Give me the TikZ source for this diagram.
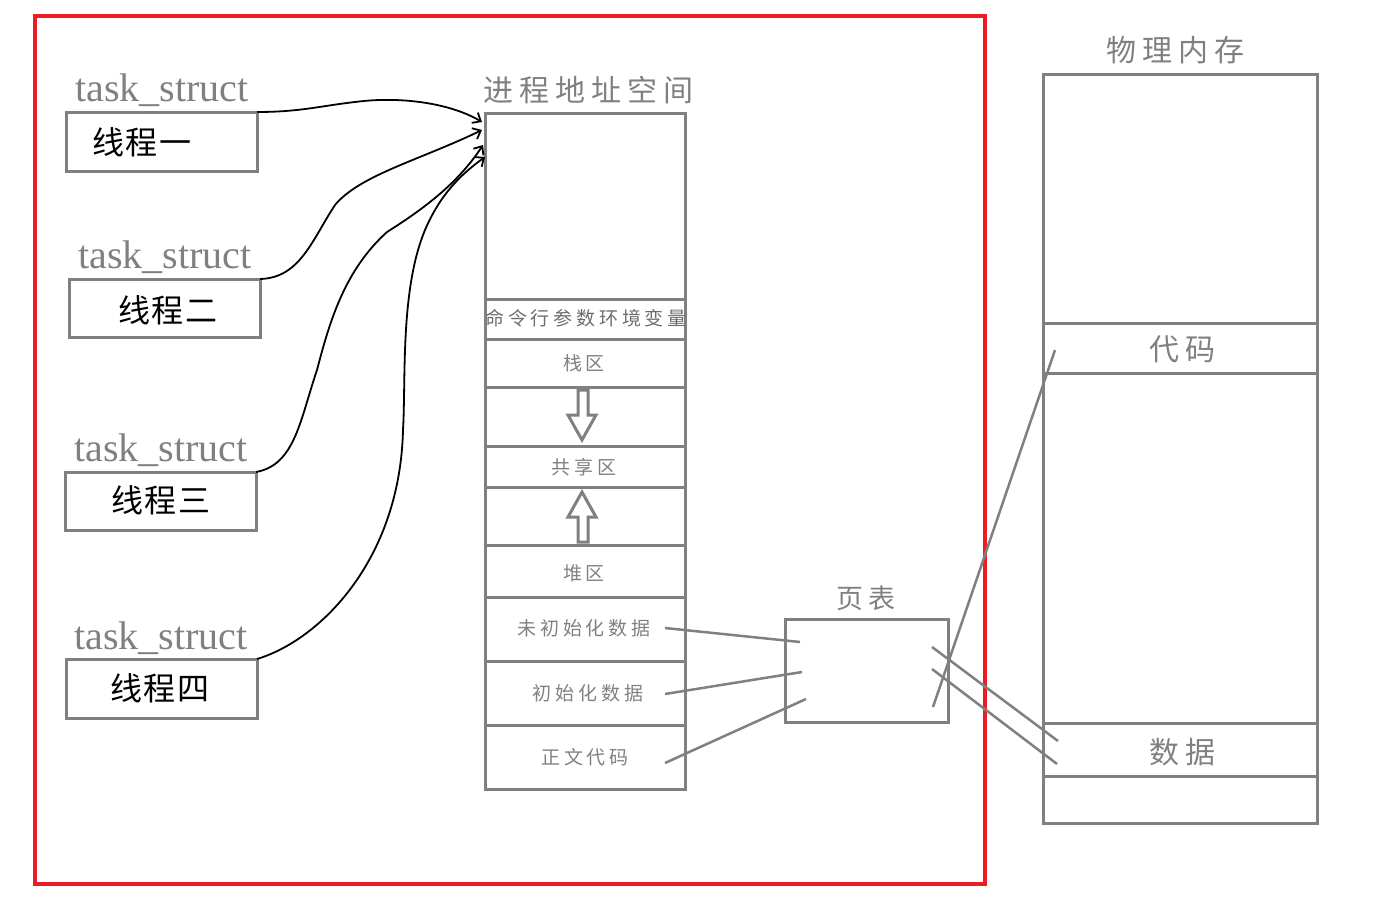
\documentclass[tikz,border=0pt]{standalone}
\usepackage{fontspec}
\newfontfamily\cjk[LetterSpace=20]{Noto Sans CJK SC}
\newfontfamily\cjkt[LetterSpace=6]{Noto Sans CJK SC}
\newfontfamily\serif{Liberation Serif}
\usetikzlibrary{arrows.meta}
\definecolor{lg}{RGB}{128,128,128}
\definecolor{fr}{RGB}{237,28,36}
\begin{document}
\begin{tikzpicture}[x=1pt,y=-1pt,
  box/.style={draw=lg, line width=3pt, inner sep=0pt, outer sep=0pt},
  lbl/.style={text=lg, inner sep=0pt},
  tname/.style={text=black, inner sep=0pt, font=\cjkt\fontsize{32}{32}\selectfont},
  ts/.style={text=lg, inner sep=0pt, font=\serif\fontsize{40}{40}\selectfont},
  seg/.style={box, minimum width=200pt},
  pseg/.style={box, minimum width=274pt},
  conn/.style={draw=lg, line width=2.5pt},
  curve/.style={black, line width=1.8pt, -{Straight Barb[length=7pt,width=12pt]}},
  hollow/.style={draw=lg, line width=3pt, fill=white, line join=miter}
]
\useasboundingbox (0,0) rectangle (1382,899);
% red frame
\draw[fr, line width=3.5pt] (35,16) rectangle (985,884);

% thread boxes
\node[box, minimum width=191pt, minimum height=59pt] (t1) at (161.5,141.5) {};
\node[box, minimum width=191pt, minimum height=58pt] (t2) at (164.5,308) {};
\node[box, minimum width=191pt, minimum height=58pt] (t3) at (160.5,501) {};
\node[box, minimum width=191pt, minimum height=59pt] (t4) at (161.5,688.5) {};
\node[tname] (n1) at (142,142) {线程一};
\node[tname] (n2) at (168,310) {线程二};
\node[tname] (n3) at (161,500) {线程三};
\node[tname] (n4) at (160,688) {线程四};
\node[ts] (ts1) at (162,90) {task\_struct};
\node[ts] (ts2) at (165,257) {task\_struct};
\node[ts] (ts3) at (161,450) {task\_struct};
\node[ts] (ts4) at (161,638) {task\_struct};

% process address space
\node[lbl, font=\cjk\fontsize{30}{30}\selectfont] (astitle) at (588,90) {进程地址空间};
\node[seg, minimum height=186pt] (s0) at (585,206) {};
\node[seg, minimum height=40pt] (s1) at (585,319) {};
\node[seg, minimum height=48pt] (s2) at (585,363) {};
\node[seg, minimum height=59pt] (s3) at (585,416.5) {};
\node[seg, minimum height=41pt] (s4) at (585,466.5) {};
\node[seg, minimum height=58pt] (s5) at (585,516) {};
\node[seg, minimum height=52pt] (s6) at (585,571) {};
\node[seg, minimum height=64pt] (s7) at (585,629) {};
\node[seg, minimum height=64pt] (s8) at (585,693) {};
\node[seg, minimum height=64pt] (s9) at (585,757) {};
\node[lbl, font=\cjk\fontsize{19}{19}\selectfont, text=lg!85!black] at (586,318) {命令行参数环境变量};
\node[lbl, font=\cjk\fontsize{19}{19}\selectfont] at (584,363) {栈区};
\node[lbl, font=\cjk\fontsize{19}{19}\selectfont] at (584,467) {共享区};
\node[lbl, font=\cjk\fontsize{19}{19}\selectfont] at (584,573) {堆区};
\node[lbl, font=\cjk\fontsize{19}{19}\selectfont] (l7) at (584,628) {未初始化数据};
\node[lbl, font=\cjk\fontsize{19}{19}\selectfont] (l8) at (588,693) {初始化数据};
\node[lbl, font=\cjk\fontsize{19}{19}\selectfont] (l9) at (585,757) {正文代码};

% hollow arrows
\draw[hollow] (578,390) -- (588,390) -- (588,415) -- (596,415) -- (582,440) -- (568,415) -- (578,415) -- cycle;
\draw[hollow] (578,542) -- (588,542) -- (588,517) -- (596,517) -- (582,492) -- (568,517) -- (578,517) -- cycle;

% page table
\node[lbl, font=\cjk\fontsize{27}{27}\selectfont] (pttitle) at (866,598) {页表};
\node[box, minimum width=163pt, minimum height=103pt] (pt) at (866.5,670.5) {};

% physical memory
\node[lbl, font=\cjk\fontsize{30}{30}\selectfont] (pmtitle) at (1175,50) {物理内存};
\node[pseg, minimum height=248pt] (p0) at (1180,199) {};
\node[pseg, minimum height=50pt] (p1) at (1180,348) {};
\node[pseg, minimum height=350pt] (p2) at (1180,548) {};
\node[pseg, minimum height=53pt] (p3) at (1180,749.5) {};
\node[pseg, minimum height=47pt] (p4) at (1180,799.5) {};
\node[lbl, font=\cjk\fontsize{30}{30}\selectfont] at (1182,349) {代码};
\node[lbl, font=\cjk\fontsize{30}{30}\selectfont] at (1182,752) {数据};

% connector end points
\coordinate (a7) at (665,628);
\coordinate (b7) at (800,642);
\coordinate (a8) at (665,694);
\coordinate (b8) at (802,672);
\coordinate (a9) at (665,763);
\coordinate (b9) at (806,699);
\coordinate (c1) at (933,707);
\coordinate (d1) at (1055,350);
\coordinate (c2) at (932,647);
\coordinate (d2) at (1058,741);
\coordinate (c3) at (932,669);
\coordinate (d3) at (1057,764);
\draw[conn] (a7) -- (b7);
\draw[conn] (a8) -- (b8);
\draw[conn] (a9) -- (b9);
\draw[conn] (c1) -- (d1);
\draw[conn] (c2) -- (d2);
\draw[conn] (c3) -- (d3);

% freehand curves
\coordinate (e1) at (482,122);
\coordinate (e2) at (482,130);
\coordinate (e3) at (483,145);
\coordinate (e4) at (485,157);
\draw[curve] (t1.north east) .. controls (300,112) and (320,106) .. (355,102) .. controls (400,96) and (450,103) .. (e1);
\draw[curve] (t2.north east) .. controls (300,278) and (312,240) .. (335,205) .. controls (360,175) and (420,160) .. (e2);
\draw[curve] (t3.north east) .. controls (295,465) and (300,420) .. (317,370) .. controls (330,320) and (345,270) .. (387,232) .. controls (430,205) and (460,180) .. (e3);
\draw[curve] (t4.north east) .. controls (320,640) and (400,560) .. (403,430) .. controls (406,380) and (400,290) .. (425,230) .. controls (440,195) and (460,175) .. (e4);
\end{tikzpicture}
\end{document}
